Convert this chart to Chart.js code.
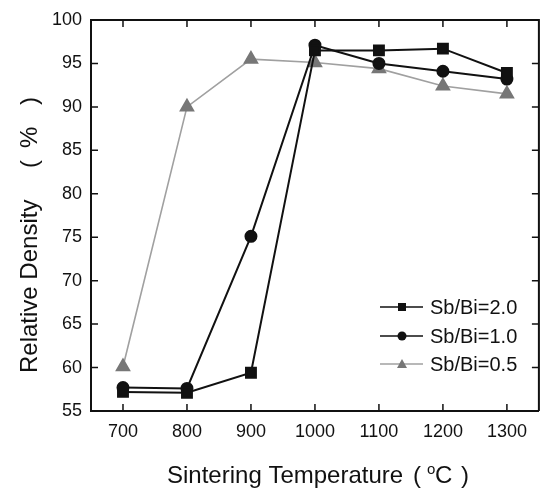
<!DOCTYPE html>
<html>
<head>
<meta charset="utf-8">
<script src="https://cdn.jsdelivr.net/npm/chart.js@4.4.1/dist/chart.umd.min.js"></script>
<style>
  html, body { margin: 0; padding: 0; background: #fff; }
  #wrap { width: 548px; height: 492px; }
</style>
</head>
<body>
<div id="wrap"><canvas id="densityChart" width="548" height="492"></canvas></div>
<script>
// sintering temperatures (°C)
const temps = [700, 800, 900, 1000, 1100, 1200, 1300];
// relative density (%)
const sb20 = [57.2, 57.1, 59.4, 96.5, 96.5, 96.7, 93.9];
const sb10 = [57.7, 57.6, 75.1, 97.1, 95.0, 94.1, 93.2];
const sb05 = [60.1, 90.0, 95.5, 95.1, 94.4, 92.4, 91.5];
const seriesNames = ['Sb/Bi=2.0', 'Sb/Bi=1.0', 'Sb/Bi=0.5'];
const xTicks = [700, 800, 900, 1000, 1100, 1200, 1300];
const yTicks = [55, 60, 65, 70, 75, 80, 85, 90, 95, 100];

const FONT = '"Liberation Sans", Arial, sans-serif';

const toPts = ys => temps.map((t, i) => ({ x: t, y: ys[i] }));

// inward ticks on all four sides, top/right frame, legend and axis titles
const frameAndLegend = {
  id: 'frameAndLegend',
  afterDatasetsDraw(chart) {
    const { ctx, chartArea: a, scales } = chart;
    const x = scales.x, y = scales.y;
    ctx.save();
    ctx.strokeStyle = '#111';
    ctx.lineWidth = 2;
    ctx.beginPath();
    ctx.moveTo(a.left, a.top); ctx.lineTo(a.right, a.top); ctx.lineTo(a.right, a.bottom);
    ctx.stroke();
    ctx.lineWidth = 1.5;
    ctx.beginPath();
    xTicks.forEach(v => {
      const px = x.getPixelForValue(v);
      ctx.moveTo(px, a.bottom); ctx.lineTo(px, a.bottom - 7);
      ctx.moveTo(px, a.top); ctx.lineTo(px, a.top + 7);
    });
    yTicks.forEach(v => {
      const py = y.getPixelForValue(v);
      ctx.moveTo(a.left, py); ctx.lineTo(a.left + 7, py);
      ctx.moveTo(a.right, py); ctx.lineTo(a.right - 7, py);
    });
    ctx.stroke();

    // legend
    const rows = [307, 336, 364];
    chart.data.datasets.forEach((ds, i) => {
      const ry = rows[i];
      ctx.strokeStyle = ds.borderColor;
      ctx.lineWidth = 1.5;
      ctx.beginPath(); ctx.moveTo(380, ry); ctx.lineTo(423, ry); ctx.stroke();
      ctx.fillStyle = ds.pointBackgroundColor;
      const cx = 402;
      if (ds.pointStyle === 'rect') ctx.fillRect(cx - 4, ry - 4, 8, 8);
      else if (ds.pointStyle === 'circle') { ctx.beginPath(); ctx.arc(cx, ry, 4.5, 0, Math.PI * 2); ctx.fill(); }
      else { ctx.beginPath(); ctx.moveTo(cx, ry - 5); ctx.lineTo(cx + 5, ry + 4); ctx.lineTo(cx - 5, ry + 4); ctx.closePath(); ctx.fill(); }
      ctx.fillStyle = '#111';
      ctx.font = '20px ' + FONT;
      ctx.textBaseline = 'middle';
      ctx.fillText(seriesNames[i], 430, ry + 1);
    });

    // x title with superscript degree
    ctx.fillStyle = '#111';
    ctx.textBaseline = 'alphabetic';
    ctx.font = '24px ' + FONT;
    let tx = 167;
    const by = 483;
    ctx.fillText('Sintering Temperature', tx, by);
    tx = 413;
    ctx.fillText('(', tx, by);
    ctx.font = '15px ' + FONT;
    ctx.fillText('o', 427, by - 9);
    ctx.font = '24px ' + FONT;
    ctx.fillText('C', 435, by);
    ctx.fillText(')', 461, by);

    // y title, rotated
    ctx.save();
    ctx.translate(37, 373);
    ctx.rotate(-Math.PI / 2);
    ctx.font = '24px ' + FONT;
    ctx.fillText('Relative Density', 0, 0);
    ctx.fillText('(', 205, 0);
    ctx.fillText('%', 225, 0);
    ctx.fillText(')', 268, 0);
    ctx.restore();

    ctx.restore();
  }
};

new Chart(document.getElementById('densityChart'), {
  type: 'line',
  data: {
    datasets: [
      {
        label: seriesNames[0], data: toPts(sb20),
        borderColor: '#111', borderWidth: 2,
        pointStyle: 'rect', pointRadius: 7, pointBackgroundColor: '#111', pointBorderColor: '#111'
      },
      {
        label: seriesNames[1], data: toPts(sb10),
        borderColor: '#111', borderWidth: 2,
        pointStyle: 'circle', pointRadius: 5.5, pointBackgroundColor: '#111', pointBorderColor: '#111'
      },
      {
        label: seriesNames[2], data: toPts(sb05),
        borderColor: '#a0a0a0', borderWidth: 1.6,
        pointStyle: 'triangle', pointRadius: 7.5, pointBackgroundColor: '#777', pointBorderColor: '#777'
      }
    ]
  },
  options: {
    responsive: false,
    animation: false,
    layout: { padding: { left: 0, right: 0, top: 20, bottom: 0 } },
    plugins: { legend: { display: false }, tooltip: { enabled: false } },
    scales: {
      x: {
        type: 'linear', min: 650, max: 1350,
        afterBuildTicks: s => { s.ticks = xTicks.map(v => ({ value: v })); },
        afterFit: s => { s.height = 81; },
        grid: { display: false, drawTicks: false },
        border: { display: true, color: '#111', width: 2 },
        ticks: { color: '#111', font: { family: FONT, size: 18 }, padding: 10, callback: v => String(v) }
      },
      y: {
        min: 55, max: 100,
        afterBuildTicks: s => { s.ticks = yTicks.map(v => ({ value: v })); },
        afterFit: s => { s.width = 91; },
        grid: { display: false, drawTicks: false },
        border: { display: true, color: '#111', width: 2 },
        ticks: { color: '#111', font: { family: FONT, size: 18 }, padding: 9, callback: v => String(v) }
      }
    }
  },
  plugins: [frameAndLegend]
});
</script>
</body>
</html>
